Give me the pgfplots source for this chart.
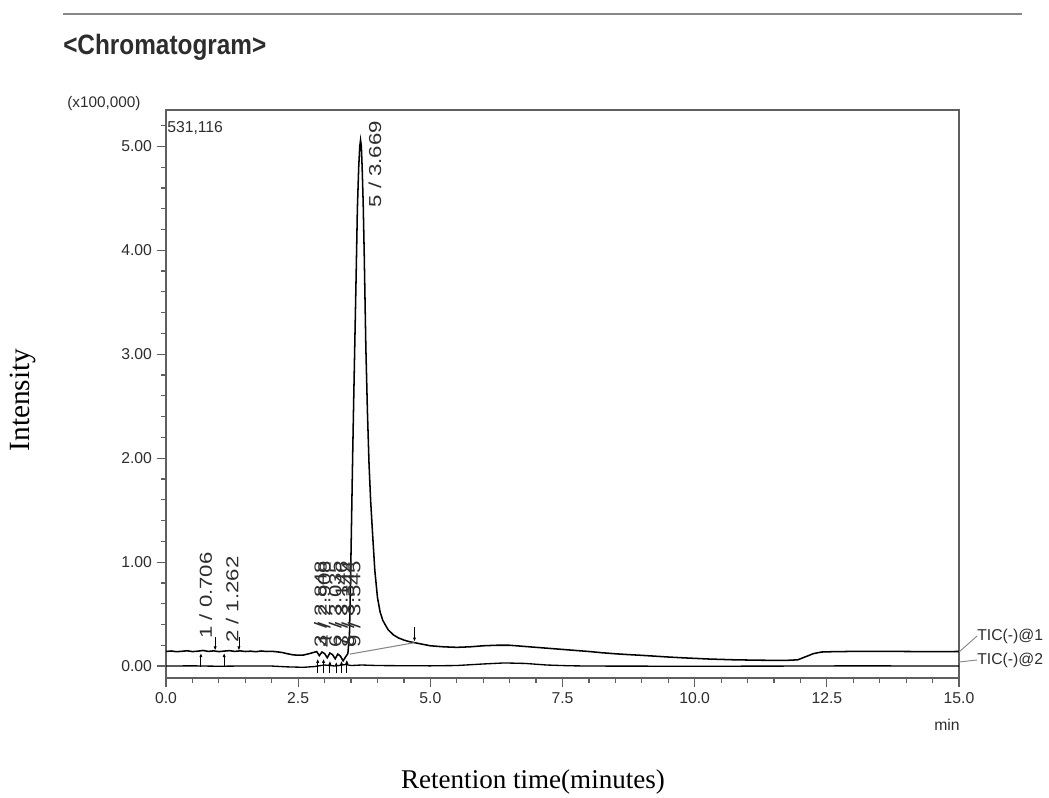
\documentclass[border=0pt]{standalone}
\usepackage{fontspec}
\setmainfont{Liberation Sans}
\newfontfamily\serif{Liberation Serif}
\usepackage{pgfplots}
\pgfplotsset{compat=1.18}
\usetikzlibrary{arrows.meta}

\definecolor{axgray}{RGB}{95,95,95}
\definecolor{txtgray}{RGB}{45,45,45}
\definecolor{bgray}{RGB}{135,135,135}

% TIC(-)@1, intensity in units of 100,000
\pgfplotstableread{
t I
0.00 0.140
0.10 0.145
0.20 0.138
0.30 0.142
0.40 0.147
0.50 0.139
0.60 0.143
0.70 0.150
0.80 0.141
0.90 0.146
1.00 0.139
1.10 0.144
1.20 0.148
1.30 0.141
1.40 0.146
1.50 0.140
1.60 0.143
1.70 0.138
1.80 0.145
1.90 0.140
2.00 0.142
2.10 0.137
2.20 0.130
2.30 0.118
2.40 0.108
2.50 0.104
2.60 0.106
2.70 0.118
2.80 0.132
2.85 0.140
2.90 0.100
2.95 0.135
3.00 0.120
3.05 0.080
3.10 0.125
3.15 0.110
3.20 0.070
3.25 0.115
3.30 0.095
3.35 0.050
3.40 0.090
3.44 0.120
3.47 0.30
3.49 0.80
3.51 1.40
3.53 2.00
3.55 2.55
3.57 3.07
3.60 3.85
3.62 4.40
3.645 4.80
3.665 5.00
3.68 5.06
3.695 5.00
3.71 4.80
3.73 4.45
3.75 3.95
3.78 3.07
3.81 2.45
3.84 1.95
3.87 1.60
3.91 1.25
3.95 0.92
4.00 0.66
4.05 0.52
4.10 0.44
4.20 0.35
4.30 0.30
4.40 0.27
4.50 0.25
4.60 0.235
4.70 0.225
4.80 0.215
4.90 0.205
5.00 0.195
5.25 0.185
5.50 0.180
5.75 0.185
6.00 0.195
6.25 0.200
6.50 0.200
6.75 0.190
7.00 0.180
7.25 0.170
7.50 0.160
7.75 0.150
8.00 0.140
8.25 0.128
8.50 0.118
8.75 0.110
9.00 0.103
9.25 0.095
9.50 0.087
9.75 0.080
10.00 0.074
10.25 0.068
10.50 0.064
10.75 0.060
11.00 0.058
11.25 0.056
11.50 0.055
11.75 0.055
11.95 0.060
12.10 0.090
12.25 0.120
12.40 0.135
12.60 0.138
13.00 0.141
13.50 0.142
14.00 0.140
14.50 0.139
15.00 0.140
}\ticone

% TIC(-)@2
\pgfplotstableread{
t I
0.0 0.000
0.5 0.002
1.0 -0.002
1.5 0.001
2.0 0.000
2.3 -0.008
2.6 -0.012
2.8 -0.005
3.0 0.010
3.2 0.000
3.4 0.015
3.5 0.005
3.7 0.010
4.0 0.005
4.5 0.003
5.0 0.002
5.5 0.005
6.0 0.020
6.4 0.030
6.8 0.025
7.2 0.010
7.6 0.003
8.0 0.000
10.0 -0.002
12.0 0.000
13.0 0.002
15.0 0.000
}\tictwo

\newcommand{\tickfont}{\fontsize{11.8}{12}\selectfont}
\newcommand{\labfont}{\fontsize{13}{13}\selectfont}
\newcommand{\pk}[1]{\scalebox{1.28}[1]{#1}}

\begin{document}
\begin{tikzpicture}[x=0.75pt,y=0.75pt]
\path[use as bounding box] (0,0) rectangle (1049,797);

% header
\draw[bgray, line width=1.5pt] (63,783) -- (1022,783);
\node[anchor=base west, inner sep=0pt, text=txtgray] at (63,742)
  {\scalebox{0.87}[1]{\fontsize{21}{21}\selectfont\bfseries <Chromatogram>}};
\node[anchor=base west, inner sep=0pt, text=txtgray] at (67,689)
  {\fontsize{11.5}{12}\selectfont (x100,000)};

\begin{axis}[
    at={(124.5pt,89.25pt)}, anchor=south west,
    width=594.75pt, height=426pt, scale only axis,
    xmin=0, xmax=15, ymin=-0.115, ymax=5.35,
    xtick={0,2.5,5,7.5,10,12.5,15},
    ytick={0,1,2,3,4,5},
    minor x tick num=4,
    minor ytick={0.2,0.4,0.6,0.8,1.2,1.4,1.6,1.8,2.2,2.4,2.6,2.8,3.2,3.4,3.6,3.8,4.2,4.4,4.6,4.8,5.2},
    xtick pos=lower, ytick pos=left,
    tick align=outside,
    major tick length=7pt, minor tick length=3.5pt,
    axis line style={axgray, line width=1.3pt},
    tick style={axgray, line width=0.9pt},
    /pgf/number format/assume math mode=true,
    ticklabel style={font=\tickfont, text=txtgray},
    xticklabel style={/pgf/number format/fixed, /pgf/number format/fixed zerofill, /pgf/number format/precision=1, text height=8.5pt, text depth=0pt},
    yticklabel style={/pgf/number format/fixed, /pgf/number format/fixed zerofill, /pgf/number format/precision=2},
    clip=false,
]
\addplot[black, line width=1pt] table[x=t, y=I] {\tictwo};
\addplot[black, line width=1.15pt] table[x=t, y=I] {\ticone};
% integration baseline of peak 5
\addplot[bgray, line width=0.8pt] coordinates {(3.48,0.115) (4.70,0.225)};

% peak start / end markers
\addplot[black, line width=0.6pt, -{Latex[length=3pt,width=2.4pt]}] coordinates {(0.66,-0.01) (0.66,0.125)};
\addplot[black, line width=0.6pt, -{Latex[length=3pt,width=2.4pt]}] coordinates {(0.93,0.28) (0.93,0.15)};
\addplot[black, line width=0.6pt, -{Latex[length=3pt,width=2.4pt]}] coordinates {(1.10,-0.01) (1.10,0.125)};
\addplot[black, line width=0.6pt, -{Latex[length=3pt,width=2.4pt]}] coordinates {(1.38,0.28) (1.38,0.15)};
\addplot[black, line width=0.6pt, -{Latex[length=3pt,width=2.4pt]}] coordinates {(4.70,0.38) (4.70,0.235)};
\addplot[black, line width=0.6pt, -{Latex[length=3pt,width=2.4pt]}] coordinates {(2.87,-0.07) (2.87,0.07)};
\addplot[black, line width=0.6pt, -{Latex[length=3pt,width=2.4pt]}] coordinates {(2.98,-0.07) (2.98,0.07)};
\addplot[black, line width=0.6pt, -{Latex[length=3pt,width=2.4pt]}] coordinates {(3.10,-0.07) (3.10,0.05)};
\addplot[black, line width=0.6pt, -{Latex[length=3pt,width=2.4pt]}] coordinates {(3.22,-0.07) (3.22,0.04)};
\addplot[black, line width=0.6pt, -{Latex[length=3pt,width=2.4pt]}] coordinates {(3.32,-0.07) (3.32,0.05)};
\addplot[black, line width=0.6pt, -{Latex[length=3pt,width=2.4pt]}] coordinates {(3.42,-0.07) (3.42,0.06)};

% peak labels
\tikzset{pklab/.style={rotate=90, anchor=west, inner sep=0pt, font=\labfont, text=txtgray}}
\node[pklab] at (axis cs:0.75,0.26) {\pk{1 / 0.706}};
\node[pklab] at (axis cs:1.25,0.22) {\pk{2 / 1.262}};
\node[pklab] at (axis cs:2.92,0.18) {\pk{3 / 2.848}};
\node[pklab] at (axis cs:2.99,0.18) {\pk{4 / 2.908}};
\node[pklab] at (axis cs:3.20,0.18) {\pk{6 / 3.035}};
\node[pklab] at (axis cs:3.32,0.18) {\pk{7 / 3.146}};
\node[pklab] at (axis cs:3.44,0.18) {\pk{8 / 3.344}};
\node[pklab] at (axis cs:3.56,0.18) {\pk{9 / 3.545}};
\node[pklab] at (axis cs:3.95,4.41) {\pk{5 / 3.669}};
\end{axis}

% max intensity, unit, trace names
\node[anchor=base west, inner sep=0pt, text=txtgray] at (167,664) {\tickfont 531,116};
\node[anchor=base, inner sep=0pt, text=txtgray] at (947,67) {\tickfont min};
\draw[bgray, line width=0.7pt] (959,145) -- (977,161);
\draw[bgray, line width=0.7pt] (959,135) -- (977,137);
\node[anchor=west, inner sep=0pt, text=txtgray] at (977,161) {\tickfont TIC(-)@1};
\node[anchor=west, inner sep=0pt, text=txtgray] at (977,137) {\tickfont TIC(-)@2};

% axis titles
\node[rotate=90, inner sep=0pt] at (23,397) {\serif\fontsize{22}{22}\selectfont Intensity};
\node[anchor=base, inner sep=0pt] at (533,9) {\serif\fontsize{20.3}{21}\selectfont Retention time(minutes)};
\end{tikzpicture}
\end{document}
